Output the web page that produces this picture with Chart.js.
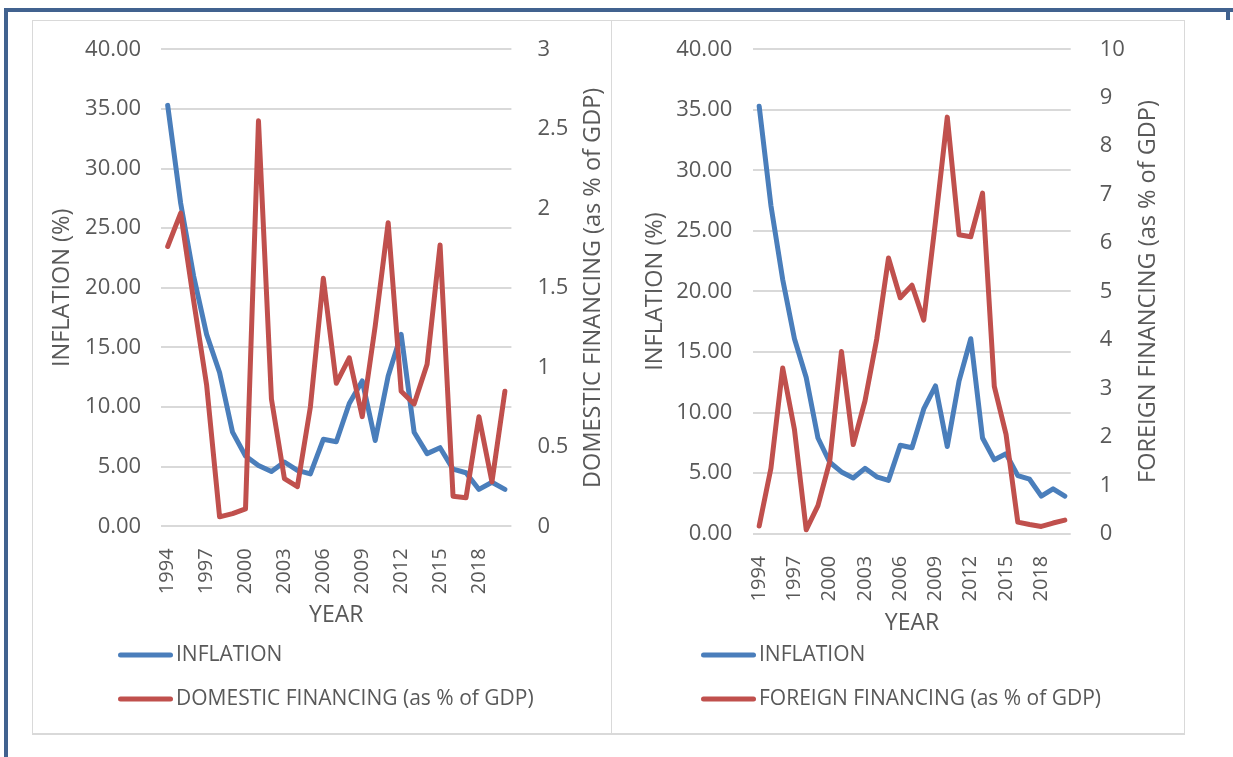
<!DOCTYPE html>
<html>
<head>
<meta charset="utf-8">
<script src="https://cdn.jsdelivr.net/npm/chart.js@4.4.1/dist/chart.umd.min.js"></script>
<style>
    body { margin: 0; background: #fff; width: 1233px; height: 757px; overflow: hidden; position: relative; font-family: 'Open Sans', sans-serif; }
    #frame { position: absolute; left: 4px; top: 8px; width: 1300px; height: 800px; border-left: 4px solid #41628f; border-top: 4px solid #41628f; }
    #corner { position: absolute; left: 1226px; top: 8px; width: 4px; height: 12px; background: #41628f; }
    #box { position: absolute; left: 32px; top: 20px; width: 1151px; height: 712px; border: 1px solid #d9d9d9; border-bottom: 2px solid #d9d9d9; }
    #divider { position: absolute; left: 611px; top: 20px; width: 1px; height: 714px; background: #d9d9d9; }
    canvas { position: absolute; }
</style>
</head>
<body>
<div id="frame"></div>
<div id="corner"></div>
<div id="box"></div>
<div id="divider"></div>
<canvas id="domesticChart" width="577" height="712" style="left:33px;top:21px;"></canvas>
<canvas id="foreignChart" width="572" height="712" style="left:612px;top:21px;"></canvas>
<script>
// years on the category axis (labels shown every 3rd year)
var years = ['1994', '1995', '1996', '1997', '1998', '1999', '2000', '2001', '2002', '2003',
    '2004', '2005', '2006', '2007', '2008', '2009', '2010', '2011', '2012', '2013',
    '2014', '2015', '2016', '2017', '2018', '2019', '2020'];

// inflation (%), same series in both panels
var inflation = [35.3, 27.1, 21.0, 16.1, 12.9, 7.9, 5.9, 5.1, 4.6, 5.4,
    4.7, 4.4, 7.3, 7.1, 10.3, 12.2, 7.2, 12.6, 16.1, 7.9,
    6.1, 6.6, 4.8, 4.5, 3.1, 3.7, 3.1];

// domestic financing (as % of GDP)
var domestic = [1.76, 1.97, 1.42, 0.89, 0.06, 0.08, 0.11, 2.55, 0.80, 0.30,
    0.25, 0.75, 1.56, 0.90, 1.06, 0.69, 1.26, 1.91, 0.85, 0.77,
    1.02, 1.77, 0.19, 0.18, 0.69, 0.28, 0.85];

// foreign financing (as % of GDP)
var foreign = [0.16, 1.35, 3.42, 2.15, 0.08, 0.58, 1.49, 3.76, 1.84, 2.74,
    4.02, 5.69, 4.87, 5.13, 4.41, 6.45, 8.60, 6.17, 6.13, 7.03,
    3.04, 2.05, 0.24, 0.19, 0.15, 0.22, 0.28];

var TEXT = '#595959';
var BLUE = '#4a7ebb';
var RED = '#c0504d';
var FONT = '"Open Sans", sans-serif';

// draws the axis titles (right one reads bottom-to-top) and the legend
var chartText = {
    id: 'chartText',
    afterDraw: function (chart, args, opts) {
        var ctx = chart.ctx;
        var area = chart.chartArea;
        var midY = (area.top + area.bottom) / 2;
        ctx.save();
        ctx.fillStyle = TEXT;
        ctx.font = '23.5px ' + FONT;
        ctx.textAlign = 'center';
        ctx.textBaseline = 'middle';
        [[opts.leftX, opts.leftTitle], [opts.rightX, opts.rightTitle]].forEach(function (t) {
            ctx.save();
            ctx.translate(t[0], midY);
            ctx.rotate(-Math.PI / 2);
            ctx.fillText(t[1], 0, 0);
            ctx.restore();
        });
        ctx.font = '23px ' + FONT;
        ctx.fillText('YEAR', (area.left + area.right) / 2, opts.xTitleY);

        // legend, one item per row
        ctx.font = '21px ' + FONT;
        ctx.textAlign = 'left';
        ctx.lineCap = 'round';
        ctx.lineWidth = 5;
        chart.data.datasets.forEach(function (ds, i) {
            var y = opts.legendY + i * 44;
            ctx.strokeStyle = ds.borderColor;
            ctx.beginPath();
            ctx.moveTo(opts.legendX + 2.5, y);
            ctx.lineTo(opts.legendX + 52.5, y);
            ctx.stroke();
            ctx.fillText(ds.label, opts.legendX + 58, y);
        });
        ctx.restore();
    }
};

// fixed axis width, and no tick-label padding pushed onto the plot area
function fixWidth(w) {
    return function (scale) {
        scale.width = w;
        scale.paddingTop = 0;
        scale.paddingBottom = 0;
    };
}

function makeChart(id, redLabel, redData, rightMax, rightStep, layout) {
    var ctx = document.getElementById(id).getContext('2d');
    return new Chart(ctx, {
        type: 'line',
        data: {
            labels: years,
            datasets: [{
                label: 'INFLATION',
                data: inflation,
                borderColor: BLUE,
                yAxisID: 'y',
                order: 2
            }, {
                label: redLabel,
                data: redData,
                borderColor: RED,
                yAxisID: 'y1',
                order: 1
            }]
        },
        options: {
            responsive: false,
            animation: false,
            layout: { padding: { top: 28.3, left: 0, right: 0, bottom: 0 } },
            elements: {
                line: { borderWidth: 5, tension: 0, borderCapStyle: 'round', borderJoinStyle: 'round' },
                point: { radius: 0, hoverRadius: 0 }
            },
            plugins: {
                legend: { display: false },
                tooltip: { enabled: false },
                chartText: layout.text
            },
            scales: {
                x: {
                    type: 'category',
                    offset: true,
                    grid: { display: false },
                    border: { display: false },
                    ticks: {
                        autoSkip: false,
                        minRotation: 90,
                        maxRotation: 90,
                        padding: layout.xPad,
                        color: TEXT,
                        font: { family: FONT, size: 20 },
                        callback: function (value, index) {
                            return index % 3 === 0 ? years[index] : '';
                        }
                    },
                    afterFit: function (scale) { scale.height = layout.xHeight; }
                },
                y: {
                    position: 'left',
                    min: 0,
                    max: 40,
                    grid: { color: '#d9d9d9', lineWidth: 2, drawTicks: false },
                    border: { display: false },
                    ticks: {
                        stepSize: 5,
                        padding: layout.yPad,
                        color: TEXT,
                        font: { family: FONT, size: 22 },
                        callback: function (value) { return value.toFixed(2); }
                    },
                    afterFit: fixWidth(layout.yWidth)
                },
                y1: {
                    position: 'right',
                    min: 0,
                    max: rightMax,
                    grid: { display: false, drawTicks: false },
                    border: { display: false },
                    ticks: {
                        stepSize: rightStep,
                        padding: layout.y1Pad,
                        color: TEXT,
                        font: { family: FONT, size: 22 },
                        callback: function (value) { return String(value); }
                    },
                    afterFit: fixWidth(layout.y1Width)
                }
            }
        },
        plugins: [chartText]
    });
}

makeChart('domesticChart', 'DOMESTIC FINANCING (as % of GDP)', domestic, 3, 0.5, {
    xHeight: 206.6, yWidth: 128.2, y1Width: 98.6, xPad: 14, yPad: 20, y1Pad: 26,
    text: {
        leftTitle: 'INFLATION (%)', rightTitle: 'DOMESTIC FINANCING (as % of GDP)',
        leftX: 29.5, rightX: 560, xTitleY: 594, legendX: 85, legendY: 634
    }
});

makeChart('foreignChart', 'FOREIGN FINANCING (as % of GDP)', foreign, 10, 1, {
    xHeight: 199.3, yWidth: 141.3, y1Width: 113.3, xPad: 14, yPad: 21, y1Pad: 29,
    text: {
        leftTitle: 'INFLATION (%)', rightTitle: 'FOREIGN FINANCING (as % of GDP)',
        leftX: 43, rightX: 536, xTitleY: 602, legendX: 89, legendY: 634
    }
});
</script>
</body>
</html>
